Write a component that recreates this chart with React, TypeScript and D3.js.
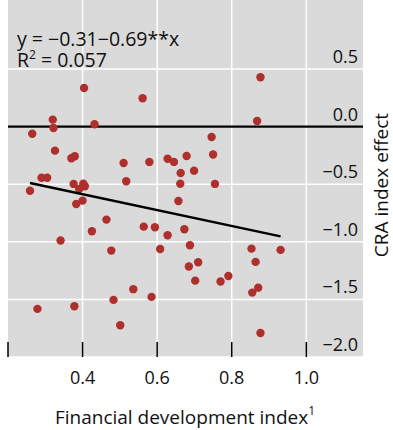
import React, { useEffect, useRef } from 'react'
import * as d3 from 'd3'

// financial development index (x) vs CRA index effect (y), one point per country
const finDev = [
  0.404, 0.561, 0.320, 0.322, 0.432, 0.265, 0.326, 0.370, 0.379, 0.510,
  0.579, 0.628, 0.645, 0.679, 0.877, 0.868, 0.746, 0.750, 0.663, 0.290,
  0.305, 0.376, 0.402, 0.406, 0.391, 0.259, 0.517, 0.662, 0.383, 0.400,
  0.657, 0.464, 0.425, 0.564, 0.594, 0.628, 0.673, 0.341, 0.477, 0.608,
  0.688, 0.699, 0.755, 0.853, 0.931, 0.685, 0.536, 0.585, 0.483, 0.279,
  0.378, 0.501, 0.710, 0.864, 0.702, 0.770, 0.791, 0.871, 0.855, 0.877,
]
const craEffect = [
  0.336, 0.247, 0.061, -0.011, 0.021, -0.061, -0.208, -0.274, -0.257, -0.315,
  -0.306, -0.278, -0.306, -0.254, 0.429, 0.049, -0.089, -0.241, -0.402, -0.443,
  -0.443, -0.497, -0.495, -0.517, -0.541, -0.556, -0.474, -0.495, -0.671, -0.642,
  -0.645, -0.807, -0.908, -0.868, -0.873, -0.943, -0.891, -0.988, -1.076, -1.062,
  -1.029, -0.382, -0.497, -1.059, -1.070, -1.214, -1.411, -1.478, -1.504, -1.582,
  -1.559, -1.724, -1.177, -1.174, -1.337, -1.345, -1.296, -1.398, -1.441, -1.791,
]
const fitIntercept = -0.31
const fitSlope = -0.69
const xTicks = [0.2, 0.4, 0.6, 0.8, 1.0]
const xTickLabels = ['', '0.4', '0.6', '0.8', '1.0']
const yTicks = [0.5, 0.0, -0.5, -1.0, -1.5, -2.0]

const W = 393
const H = 430
const FONT = "'Open Sans', 'Noto Sans', sans-serif"

function fmt(v: number) {
  return (v < 0 ? '\u2212' : '') + Math.abs(v).toFixed(1)
}

export default function App() {
  const ref = useRef<SVGSVGElement>(null)

  useEffect(() => {
    const svg = d3.select(ref.current)
    svg.selectAll('*').remove()

    const plot = { left: 8, right: 363, top: 0, bottom: 357 }

    const x = d3.scaleLinear().domain([0.2, 1.152]).range([plot.left, plot.right])
    const y = d3.scaleLinear().domain([-2.0, 1.1]).range([plot.bottom, plot.top])

    // background panel
    svg.append('rect')
      .attr('x', plot.left)
      .attr('y', plot.top)
      .attr('width', plot.right - plot.left)
      .attr('height', plot.bottom - plot.top)
      .style('fill', '#dadada')

    // grid
    svg.append('g')
      .selectAll('line')
      .data(xTicks.slice(1))
      .enter()
      .append('line')
      .attr('x1', d => x(d)).attr('x2', d => x(d))
      .attr('y1', plot.top).attr('y2', plot.bottom)
      .style('stroke', '#fff').style('stroke-width', 1.5)

    svg.append('g')
      .selectAll('line')
      .data(yTicks)
      .enter()
      .append('line')
      .attr('x1', plot.left).attr('x2', plot.right)
      .attr('y1', d => y(d)).attr('y2', d => y(d))
      .style('stroke', '#fff').style('stroke-width', 1.5)

    // zero line
    svg.append('line')
      .attr('x1', plot.left).attr('x2', plot.right)
      .attr('y1', y(0)).attr('y2', y(0))
      .style('stroke', '#000').style('stroke-width', 2.2)

    // x ticks (inside, from bottom)
    svg.append('g')
      .selectAll('line')
      .data(xTicks)
      .enter()
      .append('line')
      .attr('x1', d => x(d)).attr('x2', d => x(d))
      .attr('y1', plot.bottom - 15).attr('y2', plot.bottom)
      .style('stroke', '#000').style('stroke-width', 1.5)

    svg.append('g')
      .selectAll('text')
      .data(xTicks)
      .enter()
      .append('text')
      .attr('x', d => x(d))
      .attr('y', 384)
      .attr('text-anchor', 'middle')
      .style('font-family', FONT)
      .style('font-size', '18px')
      .style('fill', '#111')
      .text((d, i) => xTickLabels[i])

    // y tick labels sit above their gridline at the right
    svg.append('g')
      .selectAll('text')
      .data(yTicks)
      .enter()
      .append('text')
      .attr('x', 358)
      .attr('y', d => y(d) - 6)
      .attr('text-anchor', 'end')
      .style('font-family', FONT)
      .style('font-size', '18px')
      .style('fill', '#111')
      .text(d => fmt(d))

    // points
    const pts = finDev.map((v, i) => ({ fx: v, cy: craEffect[i] }))
    svg.append('g')
      .selectAll('circle')
      .data(pts)
      .enter()
      .append('circle')
      .attr('cx', d => x(d.fx))
      .attr('cy', d => y(d.cy))
      .attr('r', 4.2)
      .style('fill', '#ae2f2c')

    // fitted line over the data range
    const ext = d3.extent(finDev) as [number, number]
    const line = d3.line<number>()
      .x(d => x(d))
      .y(d => y(fitIntercept + fitSlope * d))
    svg.append('path')
      .attr('d', line(ext))
      .style('fill', 'none')
      .style('stroke', '#000')
      .style('stroke-width', 2.5)

    // regression annotation
    svg.append('text')
      .attr('x', 17).attr('y', 46)
      .style('font-family', FONT).style('font-size', '19.5px').style('fill', '#111')
      .text('y = \u22120.31\u22120.69**x')

    const r2 = svg.append('text')
      .attr('x', 17).attr('y', 67)
      .style('font-family', FONT).style('font-size', '19.5px').style('fill', '#111')
    r2.append('tspan').text('R')
    r2.append('tspan').attr('dy', -8).style('font-size', '12px').text('2')
    r2.append('tspan').attr('dy', 8).text(' = 0.057')

    // axis titles
    const xt = svg.append('text')
      .attr('x', 185).attr('y', 424)
      .attr('text-anchor', 'middle')
      .style('font-family', FONT).style('font-size', '19px').style('fill', '#111')
    xt.append('tspan').text('Financial development index')
    xt.append('tspan').attr('dy', -9).style('font-size', '12px').text('1')

    svg.append('text')
      .attr('transform', 'translate(388, 185) rotate(-90)')
      .attr('text-anchor', 'middle')
      .style('font-family', FONT).style('font-size', '19px').style('fill', '#111')
      .text('CRA index effect')
  }, [])

  return (
    <svg ref={ref} width={W} height={H}
      style={{ position: 'absolute', left: 0, top: 0, background: 'white' }} />
  )
}
